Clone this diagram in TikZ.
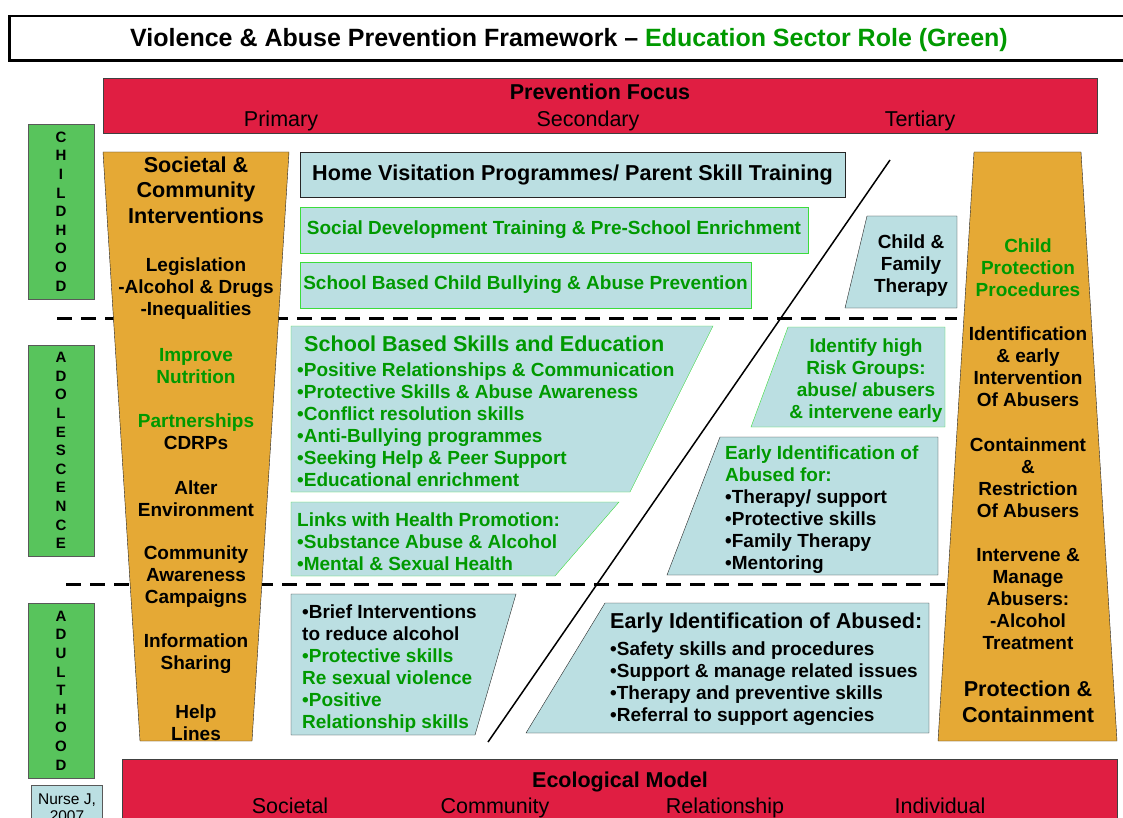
\documentclass[tikz,border=0pt]{standalone}
\usepackage{fontspec}
\setmainfont{Liberation Sans}
\usetikzlibrary{positioning}
\definecolor{focusred}{RGB}{224,30,66}
\definecolor{sectororange}{RGB}{229,169,53}
\definecolor{agegreen}{RGB}{88,196,92}
\definecolor{boxblue}{RGB}{187,223,226}
\definecolor{edugreen}{RGB}{0,153,0}
\definecolor{edgegreen}{RGB}{60,220,60}
\tikzstyle{titlebox} = [rectangle, draw=black, line width=1.5pt, fill=white, inner sep=0pt]
\tikzstyle{titletext} = [font=\bfseries\fontsize{25}{28}\selectfont, inner sep=0pt]
\tikzstyle{redbar} = [rectangle, draw=black!75, fill=focusred, inner sep=0pt]
\tikzstyle{bartitle} = [font=\bfseries\fontsize{21.5}{24}\selectfont, inner sep=0pt, anchor=base]
\tikzstyle{barlabel} = [font=\fontsize{21.5}{24}\selectfont, inner sep=0pt, anchor=base]
\tikzstyle{agebar} = [rectangle, draw=black!65, fill=agegreen, minimum width=66pt,
    font=\bfseries\fontsize{15}{18.6}\selectfont, align=center, inner sep=0pt]
\tikzstyle{bluebox} = [rectangle, draw=black!85, fill=boxblue, inner sep=0pt]
\tikzstyle{greenbox} = [bluebox, draw=edgegreen, text=edugreen]
\tikzstyle{pillar} = [draw=black!85, fill=sectororange]
\tikzstyle{blueslab} = [draw=black!85, fill=boxblue]
\tikzstyle{greenslab} = [draw=edgegreen, fill=boxblue]
\tikzstyle{divider} = [draw, line width=3pt, dash pattern=on 15pt off 9pt]
\tikzstyle{head} = [font=\bfseries\fontsize{21.6}{25.5}\selectfont, align=center, inner sep=0pt]
\tikzstyle{body} = [font=\bfseries\fontsize{19}{22}\selectfont, align=center, inner sep=0pt]

\begin{document}
\begin{tikzpicture}[x=1pt, y=-1pt]
	\useasboundingbox (0,0) rectangle (1123,818);

	\node [titlebox, minimum width=1118pt, minimum height=44pt] (title) at (569,38) {};
	\draw [line width=3.5pt] (title.north west) -- (title.south west) -- (title.south east);
	\node [titletext, anchor=base] (titletxt) at (569,47)
		{Violence \& Abuse Prevention Framework – \textcolor{edugreen}{Education Sector Role (Green)}};

	\node [redbar, minimum width=994pt, minimum height=55pt] (focus) at (600,105.5) {};
	\node [bartitle] (focustitle) at (600,100) {Prevention Focus};
	\node [barlabel] (primary) at (281,127) {Primary};
	\node [barlabel] (secondary) at (588,127) {Secondary};
	\node [barlabel] (tertiary) at (920,127) {Tertiary};

	\node [agebar, minimum height=175pt] (childhood) at (61,211.5) {C\\H\\I\\L\\D\\H\\O\\O\\D};
	\node [agebar, minimum height=211pt] (adolescence) at (61,450.5) {A\\D\\O\\L\\E\\S\\C\\E\\N\\C\\E};
	\node [agebar, minimum height=175pt] (adulthood) at (61,690.5) {A\\D\\U\\L\\T\\H\\O\\O\\D};
	\node [bluebox, draw=black!65, minimum width=71pt, minimum height=45pt, anchor=north,
		font=\fontsize{15.5}{17.5}\selectfont, align=center] (nurse) at (67,785) {Nurse J,\\2007};

	\coordinate (upperdashL) at (57,318);
	\coordinate (upperdashR) at (957,318);
	\coordinate (lowerdashL) at (66,584);
	\coordinate (lowerdashR) at (945,584);
	\path [divider] (upperdashL) -- (upperdashR);
	\path [divider] (lowerdashL) -- (lowerdashR);

	\draw [pillar] (103,152) -- (289,152) -- (252,741) -- (140,741) -- cycle;
	\draw [pillar] (974,152) -- (1081,152) -- (1117,741) -- (938,741) -- cycle;

	\node [head] (societal) at (196,190) {Societal \&\\Community\\Interventions};
	\node [body] (legislation) at (196,289) {Legislation\\-Alcohol \& Drugs\\-Inequalities};
	\node [body, text=edugreen] (nutrition) at (196,366) {Improve\\Nutrition};
	\node [body] (partners) at (196,432) {\textcolor{edugreen}{Partnerships}\\CDRPs};
	\node [body] (alter) at (196,499) {Alter\\Environment};
	\node [body] (awareness) at (196,577) {Community\\Awareness\\Campaigns};
	\node [body] (infoshare) at (196,654) {Information\\Sharing};
	\node [body] (helplines) at (196,723) {Help\\Lines};

	\node [body, text=edugreen] (cpprocs) at (1028,268) {Child\\Protection\\Procedures};
	\node [body] (earlyint) at (1028,367) {Identification\\\& early\\Intervention\\Of Abusers};
	\node [body] (restrict) at (1028,478) {Containment\\\&\\Restriction\\Of Abusers};
	\node [body] (manage) at (1028,599) {Intervene \&\\Manage\\Abusers:\\-Alcohol\\Treatment};
	\node [head] (protect) at (1028,702) {Protection \&\\Containment};

	\coordinate (splittop) at (890,160);
	\coordinate (splitbot) at (488,742);
	\draw [line width=1.5pt] (splittop) -- (splitbot);

	\node [bluebox, head, minimum width=545pt, minimum height=45pt] (homevisit) at (572.5,174.5)
		{Home Visitation Programmes/ Parent Skill Training};
	\node [greenbox, body, minimum width=508pt, minimum height=46pt] (socialdev) at (554,230)
		{Social Development Training \& Pre-School Enrichment};
	\node [greenbox, body, minimum width=451pt, minimum height=46pt] (bullying) at (525.5,285)
		{School Based Child Bullying \& Abuse Prevention};

	\draw [blueslab] (867,216) -- (957,216) -- (957,308) -- (845,308) -- cycle;
	\node [body] (cft) at (911,265.5) {Child \&\\Family\\Therapy};

	\draw [greenslab] (291,326) -- (713,326) -- (630,492) -- (291,492) -- cycle;
	\node [head, text=edugreen, anchor=west] (skillshead) at (304,344) {School Based Skills and Education};
	\node [body, text=edugreen, align=left, anchor=west] (skillslist) at (297,425)
		{•Positive Relationships \& Communication\\•Protective Skills \& Abuse Awareness\\•Conflict resolution skills\\•Anti-Bullying programmes\\•Seeking Help \& Peer Support\\•Educational enrichment};

	\draw [greenslab] (291,502) -- (619,502) -- (555,576) -- (291,576) -- cycle;
	\node [body, text=edugreen, align=left, anchor=west] (healthlinks) at (297,542)
		{Links with Health Promotion:\\•Substance Abuse \& Alcohol\\•Mental \& Sexual Health};

	\draw [greenslab] (788,327) -- (945,327) -- (945,427) -- (751,427) -- cycle;
	\node [body, text=edugreen] (riskgroups) at (866,381) {Identify high\\Risk Groups:\\abuse/ abusers\\\& intervene early};

	\draw [blueslab] (720,437) -- (938,437) -- (938,575) -- (667,575) -- cycle;
	\node [body, align=left, anchor=west] (abusedfor) at (725,509.5)
		{\textcolor{edugreen}{Early Identification of}\\\textcolor{edugreen}{Abused for:}\\•Therapy/ support\\•Protective skills\\•Family Therapy\\•Mentoring};

	\draw [blueslab] (291,594) -- (516,594) -- (475,735) -- (291,735) -- cycle;
	\node [body, align=left, anchor=west] (brief) at (302,669)
		{•Brief Interventions\\to reduce alcohol\\\textcolor{edugreen}{•Protective skills}\\\textcolor{edugreen}{Re sexual violence}\\\textcolor{edugreen}{•Positive}\\\textcolor{edugreen}{Relationship skills}};

	\draw [blueslab] (605,603) -- (929,603) -- (929,733) -- (526,733) -- cycle;
	\node [head, anchor=west] (abusedhead) at (610,623) {Early Identification of Abused:};
	\node [body, align=left, anchor=west] (abusedlist) at (610,684)
		{•Safety skills and procedures\\•Support \& manage related issues\\•Therapy and preventive skills\\•Referral to support agencies};

	\node [redbar, minimum width=995pt, minimum height=90pt, anchor=north west] (ecology) at (122,759) {};
	\node [bartitle] (ecotitle) at (620,787) {Ecological Model};
	\node [barlabel] (societallvl) at (290,813) {Societal};
	\node [barlabel] (communitylvl) at (495,813) {Community};
	\node [barlabel] (relationlvl) at (725,813) {Relationship};
	\node [barlabel] (individuallvl) at (940,813) {Individual};
\end{tikzpicture}
\end{document}
